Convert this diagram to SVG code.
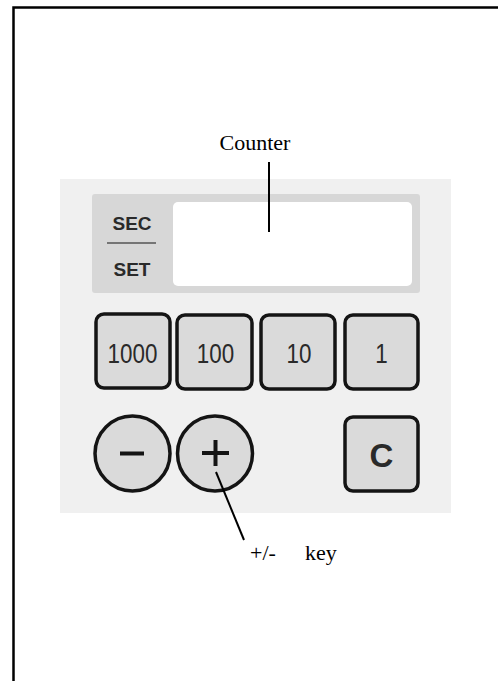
<svg xmlns="http://www.w3.org/2000/svg" width="498" height="681" viewBox="0 0 498 681">
<style>
.key{fill:#dadada;stroke:#141414;stroke-width:3.5}
.num{font-family:"Liberation Sans",Arial,sans-serif;font-size:28px;fill:#2a2a2a;text-anchor:middle}
.lbl{font-family:"Liberation Sans",Arial,sans-serif;font-size:19px;font-weight:bold;fill:#2a2a2a;text-anchor:middle}
.ann{font-family:"Liberation Serif","Times New Roman",serif;font-size:22px;fill:#000}
.lead{stroke:#000;stroke-width:2;fill:none}
</style>
<rect width="498" height="681" fill="#fff"/>
<g id="frame">
<path d="M13.5 681 V7.5 H498" fill="none" stroke="#000" stroke-width="2.5"/>
</g>
<g id="panel">
<rect x="60" y="179" width="391" height="334" fill="#f0f0f0"/>
</g>
<g id="display">
<rect x="92" y="194" width="328" height="99" rx="3" fill="#d7d7d7"/>
<rect x="173" y="202" width="239" height="84" rx="5" fill="#fff"/>
<text class="lbl" x="132" y="230">SEC</text>
<line x1="107" y1="243" x2="156" y2="243" stroke="#555" stroke-width="1.5"/>
<text class="lbl" x="132" y="276">SET</text>
</g>
<g id="key1000">
<rect class="key" x="96" y="314" width="74" height="74" rx="8"/>
<text class="num" transform="translate(132.5 363) scale(0.8 1)">1000</text>
</g>
<g id="key100">
<rect class="key" x="177" y="315" width="75" height="74" rx="8"/>
<text class="num" transform="translate(215.5 363) scale(0.8 1)">100</text>
</g>
<g id="key10">
<rect class="key" x="261" y="315" width="74" height="74" rx="8"/>
<text class="num" transform="translate(299 363) scale(0.8 1)">10</text>
</g>
<g id="key1">
<rect class="key" x="345" y="315" width="73" height="74" rx="8"/>
<text class="num" transform="translate(381.5 363) scale(0.8 1)">1</text>
</g>
<g id="keyC">
<rect class="key" x="345" y="417" width="73" height="74" rx="8"/>
<text class="num" x="381.5" y="467" style="font-weight:bold;font-size:33px">C</text>
</g>
<g id="keyMinus">
<circle class="key" cx="132.5" cy="453.5" r="37.5"/>
<line x1="120" y1="453.5" x2="144" y2="453.5" stroke="#141414" stroke-width="4"/>
</g>
<g id="keyPlus">
<circle class="key" cx="215" cy="453.5" r="37.5"/>
<line x1="202" y1="453" x2="229" y2="453" stroke="#141414" stroke-width="4"/>
<line x1="215.5" y1="440" x2="215.5" y2="466" stroke="#141414" stroke-width="4"/>
</g>
<g id="connectors">
<line class="lead" x1="269" y1="162" x2="269" y2="232"/>
<line class="lead" x1="216" y1="472" x2="244" y2="540"/>
</g>
<g id="labels">
<text class="ann" x="255" y="150" text-anchor="middle">Counter</text>
<text class="ann" x="250" y="560">+/-<tspan x="305">key</tspan></text>
</g>
</svg>
